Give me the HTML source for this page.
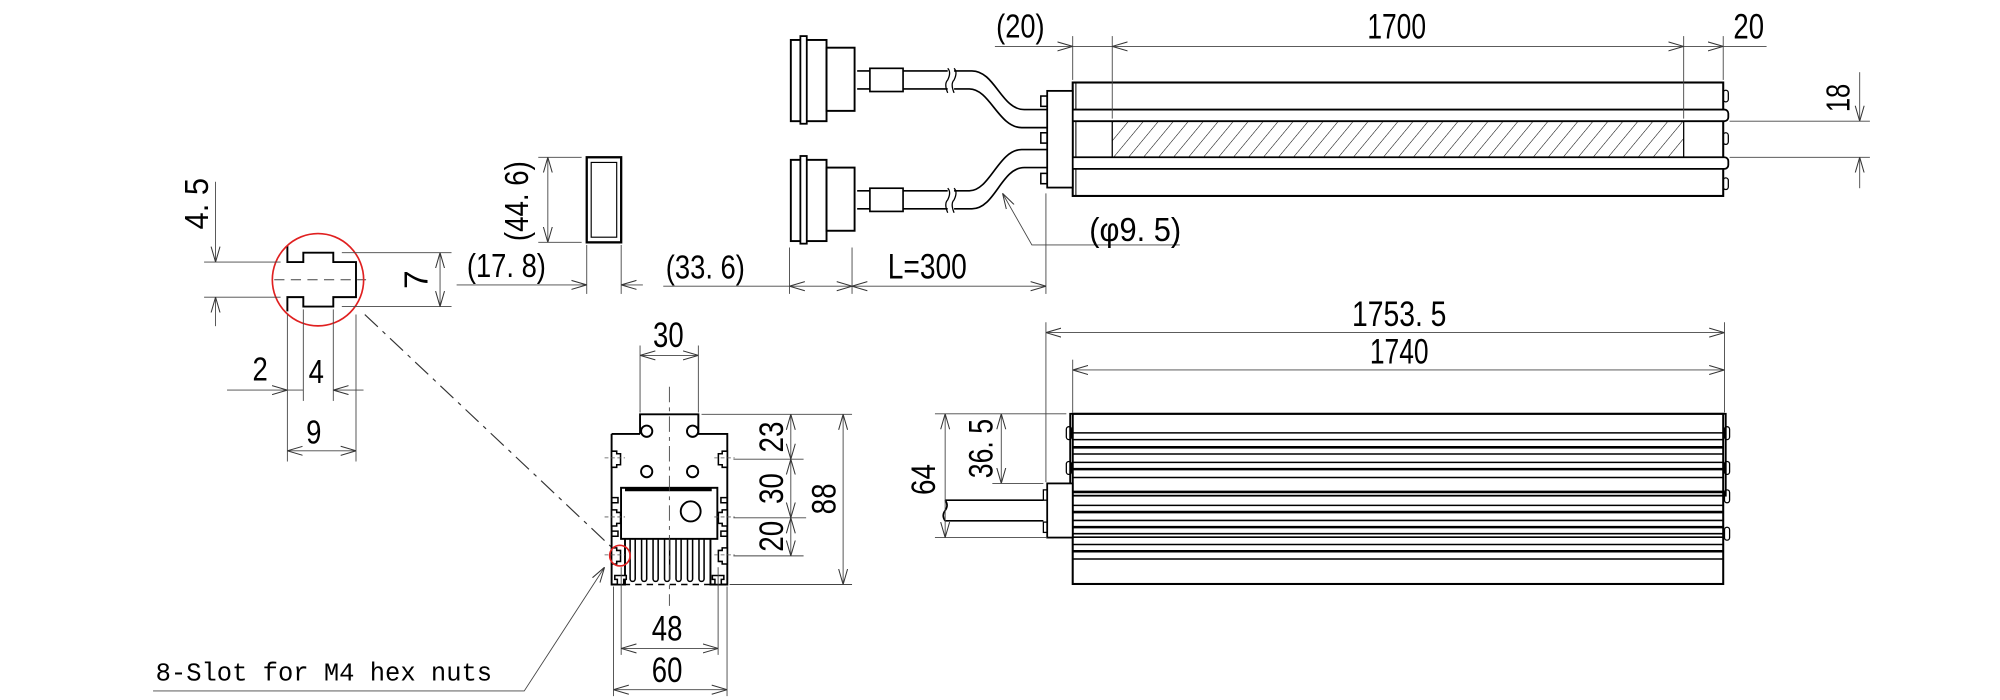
<!DOCTYPE html>
<html><head><meta charset="utf-8"><style>
html,body{margin:0;padding:0;background:#fff;}
svg{display:block}
text{font-family:"Liberation Sans Narrow","Liberation Sans",sans-serif;fill:#000;}
</style></head><body>
<svg width="2000" height="700" viewBox="0 0 1568 543" preserveAspectRatio="none" xmlns="http://www.w3.org/2000/svg">
<defs>
<marker id="a" viewBox="0 0 12 8" refX="12" refY="4" markerWidth="12" markerHeight="8" markerUnits="userSpaceOnUse" orient="auto-start-reverse">
<path d="M0,0.5 L12,4 L0,7.5" fill="none" stroke="#333" stroke-width="0.8"/>
</marker>
<pattern id="h" width="9" height="9" patternUnits="userSpaceOnUse" patternTransform="rotate(40)">
<line x1="0" y1="0" x2="0" y2="9" stroke="#000" stroke-width="0.8"/>
</pattern>
</defs>
<rect width="1568" height="543" fill="#fff"/>

<!-- ===== Top view ===== -->
<g stroke="#000" fill="none">
<rect x="841" y="64" width="510" height="88" stroke-width="1.6"/>
<line x1="843.5" y1="64" x2="843.5" y2="152" stroke-width="0.8"/>
<rect x="837" y="85" width="518" height="9" rx="3" fill="#fff" stroke-width="1.4"/>
<rect x="837" y="122" width="518" height="9" rx="3" fill="#fff" stroke-width="1.4"/>
<rect x="872" y="94" width="448" height="28" fill="url(#h)" stroke-width="1"/>
<rect x="1351" y="70" width="4" height="9" rx="2" stroke-width="1"/>
<rect x="1351" y="103" width="4" height="9" rx="2" stroke-width="1"/>
<rect x="1351" y="138" width="4" height="9" rx="2" stroke-width="1"/>
<rect x="821" y="70.5" width="20" height="75" fill="#fff" stroke-width="1.4"/>
<rect x="816" y="74.5" width="5" height="8" stroke-width="1.2"/>
<rect x="816" y="103" width="5" height="8" stroke-width="1.2"/>
<rect x="816" y="134.5" width="5" height="8" stroke-width="1.2"/>
<path d="M672 55 H682 M672 69 H682" stroke-width="1.3"/>
<rect x="682" y="53" width="26" height="18" stroke-width="1.3"/>
<path d="M708 55 H743 M708 69 H743" stroke-width="1.3"/>
<path d="M743 53 q3 3 0 9 q-3 3 0 10 M748 53 q3 3 0 9 q-3 3 0 10" stroke-width="1"/>
<path d="M748 55 H762 C780 55 785 85 803 85 H821 M748 69 H760 C776 69 783 99 801 99 H821" stroke-width="1.3"/>
<rect x="620" y="31" width="28" height="63" stroke-width="1.5"/>
<rect x="627.5" y="28" width="5" height="68" fill="#fff" stroke-width="1.4"/>
<rect x="648" y="37" width="22" height="49" stroke-width="1.5"/>
<path d="M672 148 H682 M672 162 H682" stroke-width="1.3"/>
<rect x="682" y="146" width="26" height="18" stroke-width="1.3"/>
<path d="M708 148 H743 M708 162 H743" stroke-width="1.3"/>
<path d="M743 146 q3 3 0 9 q-3 3 0 10 M748 146 q3 3 0 9 q-3 3 0 10" stroke-width="1"/>
<path d="M748 148 H760 C776 148 783 116 801 116 H821 M748 162 H762 C780 162 785 130 803 130 H821" stroke-width="1.3"/>
<rect x="620" y="124" width="28" height="63" stroke-width="1.5"/>
<rect x="627.5" y="121" width="5" height="68" fill="#fff" stroke-width="1.4"/>
<rect x="648" y="130" width="22" height="49" stroke-width="1.5"/>
</g>
<g stroke="#444" stroke-width="0.7" fill="none">
<line x1="841" y1="28" x2="841" y2="62"/><line x1="872" y1="28" x2="872" y2="92"/>
<line x1="1320" y1="28" x2="1320" y2="92"/><line x1="1351" y1="28" x2="1351" y2="62"/>
<line x1="780" y1="36" x2="841" y2="36" marker-end="url(#a)"/>
<line x1="872" y1="36" x2="1320" y2="36" marker-start="url(#a)" marker-end="url(#a)"/>
<line x1="841" y1="36" x2="872" y2="36"/>
<line x1="1320" y1="36" x2="1351" y2="36" marker-end="url(#a)"/>
<line x1="1385" y1="36" x2="1351" y2="36"/>
<line x1="1356" y1="94" x2="1466" y2="94"/><line x1="1356" y1="122" x2="1466" y2="122"/>
<line x1="1458" y1="56" x2="1458" y2="94" marker-end="url(#a)"/>
<line x1="1458" y1="146" x2="1458" y2="122" marker-end="url(#a)"/>
<line x1="619" y1="192" x2="619" y2="228"/><line x1="668" y1="192" x2="668" y2="228"/>
<line x1="820" y1="150" x2="820" y2="228"/>
<line x1="520" y1="222" x2="619" y2="222"/>
<line x1="619" y1="222" x2="668" y2="222" marker-start="url(#a)" marker-end="url(#a)"/>
<line x1="668" y1="222" x2="820" y2="222" marker-start="url(#a)" marker-end="url(#a)"/>
<path d="M925 190 H809 L786 150" marker-end="url(#a)"/>
</g>
<text x="800" y="29" font-size="26" text-anchor="middle" textLength="38" lengthAdjust="spacingAndGlyphs">(20)</text>
<text x="1095" y="30" font-size="27" text-anchor="middle" textLength="46" lengthAdjust="spacingAndGlyphs">1700</text>
<text x="1371" y="30" font-size="27" text-anchor="middle" textLength="24" lengthAdjust="spacingAndGlyphs">20</text>
<text transform="translate(1450,76) rotate(-90)" font-size="26" text-anchor="middle" textLength="22" lengthAdjust="spacingAndGlyphs">18</text>
<text x="890" y="187" font-size="26" text-anchor="middle" textLength="72" lengthAdjust="spacingAndGlyphs">(φ9. 5)</text>
<text x="553" y="216" font-size="26" text-anchor="middle" textLength="62" lengthAdjust="spacingAndGlyphs">(33. 6)</text>
<text x="727" y="216" font-size="27" text-anchor="middle" textLength="62" lengthAdjust="spacingAndGlyphs">L=300</text>

<g stroke="#000" fill="none">
<rect x="460" y="122" width="27" height="66" stroke-width="1.8"/>
<rect x="463.5" y="126" width="20" height="58" stroke-width="0.9"/>
</g>
<g stroke="#444" stroke-width="0.7" fill="none">
<line x1="422" y1="122" x2="456" y2="122"/><line x1="422" y1="188" x2="456" y2="188"/>
<line x1="429.5" y1="122" x2="429.5" y2="188" marker-start="url(#a)" marker-end="url(#a)"/>
<line x1="460" y1="190" x2="460" y2="228"/><line x1="487" y1="190" x2="487" y2="228"/>
<line x1="358" y1="221" x2="460" y2="221" marker-end="url(#a)"/>
<line x1="504" y1="221" x2="487" y2="221" marker-end="url(#a)"/>
</g>
<text transform="translate(414,156) rotate(-90)" font-size="26" text-anchor="middle" textLength="62" lengthAdjust="spacingAndGlyphs">(44. 6)</text>
<text x="397" y="215" font-size="26" text-anchor="middle" textLength="62" lengthAdjust="spacingAndGlyphs">(17. 8)</text>

<path d="M225.3 190.8 V203.3 H237.8 V196 H261.3 V203.3 H279.1 V230.5 H261.3 V237.8 H237.8 V230.5 H225.3 V241.5" stroke="#000" stroke-width="1.5" fill="none"/>
<line x1="215" y1="217" x2="287" y2="217" stroke="#444" stroke-width="0.7" stroke-dasharray="8,5"/>
<circle cx="249.3" cy="217" r="35.8" fill="none" stroke="#e02020" stroke-width="1.3"/>
<g stroke="#444" stroke-width="0.7" fill="none">
<line x1="160" y1="203.3" x2="220" y2="203.3"/><line x1="160" y1="230.5" x2="220" y2="230.5"/>
<line x1="169" y1="141" x2="169" y2="203.3" marker-end="url(#a)"/>
<line x1="169" y1="253" x2="169" y2="230.5" marker-end="url(#a)"/>
<line x1="268" y1="196" x2="354" y2="196"/><line x1="268" y1="237.8" x2="354" y2="237.8"/>
<line x1="345" y1="196" x2="345" y2="237.8" marker-start="url(#a)" marker-end="url(#a)"/>
<line x1="225.3" y1="244" x2="225.3" y2="358"/><line x1="279.1" y1="244" x2="279.1" y2="358"/>
<line x1="237.8" y1="240" x2="237.8" y2="311"/><line x1="261.3" y1="240" x2="261.3" y2="311"/>
<line x1="178" y1="302.6" x2="225.3" y2="302.6" marker-end="url(#a)"/>
<line x1="225.3" y1="302.6" x2="237.8" y2="302.6"/>
<line x1="285" y1="302.6" x2="261.3" y2="302.6" marker-end="url(#a)"/>
<line x1="225.3" y1="349.7" x2="279.1" y2="349.7" marker-start="url(#a)" marker-end="url(#a)"/>
</g>
<line x1="286" y1="244" x2="479" y2="424" stroke="#333" stroke-width="0.9" stroke-dasharray="14,5,3,5"/>
<text transform="translate(163,158) rotate(-90)" font-size="26" text-anchor="middle" textLength="40" lengthAdjust="spacingAndGlyphs">4. 5</text>
<text transform="translate(335,217) rotate(-90)" font-size="26" text-anchor="middle">7</text>
<text x="204" y="295" font-size="26" text-anchor="middle" textLength="12" lengthAdjust="spacingAndGlyphs">2</text>
<text x="248" y="297" font-size="26" text-anchor="middle" textLength="12" lengthAdjust="spacingAndGlyphs">4</text>
<text x="246" y="344" font-size="26" text-anchor="middle" textLength="12" lengthAdjust="spacingAndGlyphs">9</text>

<g stroke="#000" stroke-width="1.5" fill="none">
<path d="M501.8 336.6 V321.4 H547.5 V336.6 H570.2 V453.4 H557 V418 M479.5 336.6 H501.8 M479.5 336.6 V453.4 H490 V418"/>
<rect x="486.9" y="378.4" width="75.5" height="39.6" fill="#fff"/>
<line x1="490" y1="380" x2="558" y2="380" stroke-width="2.2"/>
<circle cx="507" cy="334.5" r="4.4" fill="#fff"/>
<circle cx="543" cy="334.5" r="4.4" fill="#fff"/>
<circle cx="507" cy="365.8" r="4.4"/>
<circle cx="543" cy="365.8" r="4.4"/>
<circle cx="541.5" cy="396.7" r="7.8"/>
<path d="M494 418 V449 a2 2 0 0 0 4 0 V418 M503 418 V449 a2 2 0 0 0 4 0 V418 M512 418 V449 a2 2 0 0 0 4 0 V418 M521 418 V449 a2 2 0 0 0 4 0 V418 M530 418 V449 a2 2 0 0 0 4 0 V418 M539 418 V449 a2 2 0 0 0 4 0 V418 M548 418 V449 a2 2 0 0 0 4 0 V418" stroke-width="1.2"/>
<path d="M490 453.4 H494 M498 453.4 H503 M507 453.4 H512 M516 453.4 H521 M525 453.4 H530 M534 453.4 H539 M543 453.4 H548 M552 453.4 H557" stroke-width="1.2"/>
</g>
<g stroke="#000" stroke-width="1.2" fill="#fff">
<path d="M479.5 350 h4 v2 h3 v8.5 h-3 v2 h-4 z"/>
<path d="M570.2 350 h-4 v2 h-3 v8.5 h3 v2 h4 z"/>
<path d="M479.5 395.5 h4 v2 h3 v8.5 h-3 v2 h-4 z"/>
<path d="M570.2 395.5 h-4 v2 h-3 v8.5 h3 v2 h4 z"/>
<path d="M479.5 425 h4 v2 h3 v8.5 h-3 v2 h-4 z"/>
<path d="M570.2 425 h-4 v2 h-3 v8.5 h3 v2 h4 z"/>
<path d="M484 453.4 v-4 h-2 v-3 h9 v3 h-2 v4 z"/>
<path d="M565.5 453.4 v-4 h2 v-3 h-9 v3 h2 v4 z"/>
<path d="M479.5 386 h5 v4 h-5 M479.5 412 h5 v4 h-5 M570.2 386 h-5 v4 h5 M570.2 412 h-5 v4 h5" fill="none"/>
</g>
<line x1="524.8" y1="300" x2="524.8" y2="470" stroke="#444" stroke-width="0.7" stroke-dasharray="12,4,3,4"/>
<g stroke="#555" stroke-width="0.6" stroke-dasharray="3,2">
<line x1="474" y1="355.2" x2="490" y2="355.2"/><line x1="560" y1="355.2" x2="576" y2="355.2"/>
<line x1="474" y1="401" x2="490" y2="401"/><line x1="560" y1="401" x2="576" y2="401"/>
<line x1="474" y1="430.4" x2="490" y2="430.4"/><line x1="560" y1="430.4" x2="576" y2="430.4"/>
</g>
<circle cx="486" cy="431" r="8" fill="none" stroke="#e02020" stroke-width="1.3"/>
<g stroke="#444" stroke-width="0.7" fill="none">
<line x1="501.8" y1="268" x2="501.8" y2="320"/><line x1="547.5" y1="268" x2="547.5" y2="320"/>
<line x1="501.8" y1="275.7" x2="547.5" y2="275.7" marker-start="url(#a)" marker-end="url(#a)"/>
<line x1="550" y1="321.4" x2="668" y2="321.4"/>
<line x1="575" y1="356.2" x2="630" y2="356.2"/>
<line x1="575" y1="401.7" x2="632" y2="401.7"/>
<line x1="575" y1="431.2" x2="630" y2="431.2"/>
<line x1="572" y1="453.4" x2="668" y2="453.4"/>
<line x1="620" y1="321.4" x2="620" y2="356.2" marker-start="url(#a)" marker-end="url(#a)"/>
<line x1="620" y1="356.2" x2="620" y2="401.7" marker-start="url(#a)" marker-end="url(#a)"/>
<line x1="620" y1="401.7" x2="620" y2="431.2" marker-start="url(#a)" marker-end="url(#a)"/>
<line x1="661" y1="321.4" x2="661" y2="453.4" marker-start="url(#a)" marker-end="url(#a)"/>
<line x1="481" y1="455" x2="481" y2="540"/><line x1="570" y1="455" x2="570" y2="540"/>
<line x1="487" y1="440" x2="487" y2="508"/><line x1="563" y1="440" x2="563" y2="508"/>
<line x1="487" y1="503" x2="563" y2="503" marker-start="url(#a)" marker-end="url(#a)"/>
<line x1="481" y1="535" x2="570" y2="535" marker-start="url(#a)" marker-end="url(#a)"/>
<path d="M120 536 H411 L474 440" marker-end="url(#a)"/>
</g>
<text x="524" y="269" font-size="27" text-anchor="middle" textLength="24" lengthAdjust="spacingAndGlyphs">30</text>
<text transform="translate(614,339) rotate(-90)" font-size="27" text-anchor="middle" textLength="24" lengthAdjust="spacingAndGlyphs">23</text>
<text transform="translate(614,379) rotate(-90)" font-size="27" text-anchor="middle" textLength="24" lengthAdjust="spacingAndGlyphs">30</text>
<text transform="translate(614,416) rotate(-90)" font-size="27" text-anchor="middle" textLength="24" lengthAdjust="spacingAndGlyphs">20</text>
<text transform="translate(655,387) rotate(-90)" font-size="27" text-anchor="middle" textLength="24" lengthAdjust="spacingAndGlyphs">88</text>
<text x="523" y="497" font-size="27" text-anchor="middle" textLength="24" lengthAdjust="spacingAndGlyphs">48</text>
<text x="523" y="529" font-size="27" text-anchor="middle" textLength="24" lengthAdjust="spacingAndGlyphs">60</text>
<text x="122" y="528" font-size="20" style="font-family:'Liberation Mono',monospace">8-Slot for M4 hex nuts</text>

<g stroke="#000" fill="none">
<rect x="841" y="321" width="510" height="132" stroke-width="1.6"/>
<rect x="839" y="321" width="514" height="63.5" stroke-width="1.4"/>
<g stroke-width="1.2">
<line x1="841" y1="335.8" x2="1351" y2="335.8"/><line x1="841" y1="341" x2="1351" y2="341"/>
<line x1="841" y1="347" x2="1351" y2="347" stroke-width="2"/><line x1="841" y1="352.2" x2="1351" y2="352.2"/>
<line x1="841" y1="358.7" x2="1351" y2="358.7"/><line x1="841" y1="363.9" x2="1351" y2="363.9" stroke-width="2"/>
<line x1="841" y1="370.4" x2="1351" y2="370.4"/><line x1="841" y1="381.6" x2="1351" y2="381.6" stroke-width="2"/>
<line x1="841" y1="392" x2="1351" y2="392"/><line x1="841" y1="397.2" x2="1351" y2="397.2" stroke-width="2"/>
<line x1="841" y1="403.7" x2="1351" y2="403.7"/><line x1="841" y1="408.9" x2="1351" y2="408.9" stroke-width="2"/>
<line x1="841" y1="414" x2="1351" y2="414"/><line x1="841" y1="416.7" x2="1351" y2="416.7"/>
<line x1="841" y1="422.4" x2="1351" y2="422.4"/><line x1="841" y1="427.6" x2="1351" y2="427.6" stroke-width="2"/>
<line x1="841" y1="433.6" x2="1351" y2="433.6"/>
</g>
<rect x="836" y="331" width="4" height="10" rx="2" stroke-width="1"/>
<rect x="836" y="358" width="4" height="10" rx="2" stroke-width="1"/>
<rect x="1352" y="331" width="4" height="10" rx="2" stroke-width="1"/>
<rect x="1352" y="358" width="4" height="10" rx="2" stroke-width="1"/>
<rect x="1352" y="380" width="4" height="10" rx="2" stroke-width="1"/>
<rect x="1352" y="409" width="4" height="10" rx="2" stroke-width="1"/>
<rect x="821" y="375" width="20" height="42" fill="#fff" stroke-width="1.4"/>
<rect x="818" y="380" width="3" height="8" stroke-width="1"/>
<rect x="818" y="405" width="3" height="8" stroke-width="1"/>
<path d="M741 388 H818 M741 404 H818 M741 388 q3 4 0 8 q-3 4 0 8" stroke-width="1.3"/>
</g>
<g stroke="#444" stroke-width="0.7" fill="none">
<line x1="820" y1="250" x2="820" y2="374"/>
<line x1="841" y1="279" x2="841" y2="320"/>
<line x1="1352" y1="250" x2="1352" y2="320"/>
<line x1="820" y1="258" x2="1352" y2="258" marker-start="url(#a)" marker-end="url(#a)"/>
<line x1="841" y1="287" x2="1352" y2="287" marker-start="url(#a)" marker-end="url(#a)"/>
<line x1="733" y1="321" x2="836" y2="321"/>
<line x1="778" y1="375" x2="818" y2="375"/>
<line x1="733" y1="417" x2="821" y2="417"/>
<line x1="741" y1="321" x2="741" y2="417" marker-start="url(#a)" marker-end="url(#a)"/>
<line x1="785" y1="321" x2="785" y2="375" marker-start="url(#a)" marker-end="url(#a)"/>
</g>
<text x="1097" y="253" font-size="27" text-anchor="middle" textLength="74" lengthAdjust="spacingAndGlyphs">1753. 5</text>
<text x="1097" y="282" font-size="27" text-anchor="middle" textLength="46" lengthAdjust="spacingAndGlyphs">1740</text>
<text transform="translate(733,372) rotate(-90)" font-size="27" text-anchor="middle" textLength="24" lengthAdjust="spacingAndGlyphs">64</text>
<text transform="translate(778,348) rotate(-90)" font-size="27" text-anchor="middle" textLength="46" lengthAdjust="spacingAndGlyphs">36. 5</text>
</svg>
</body></html>
